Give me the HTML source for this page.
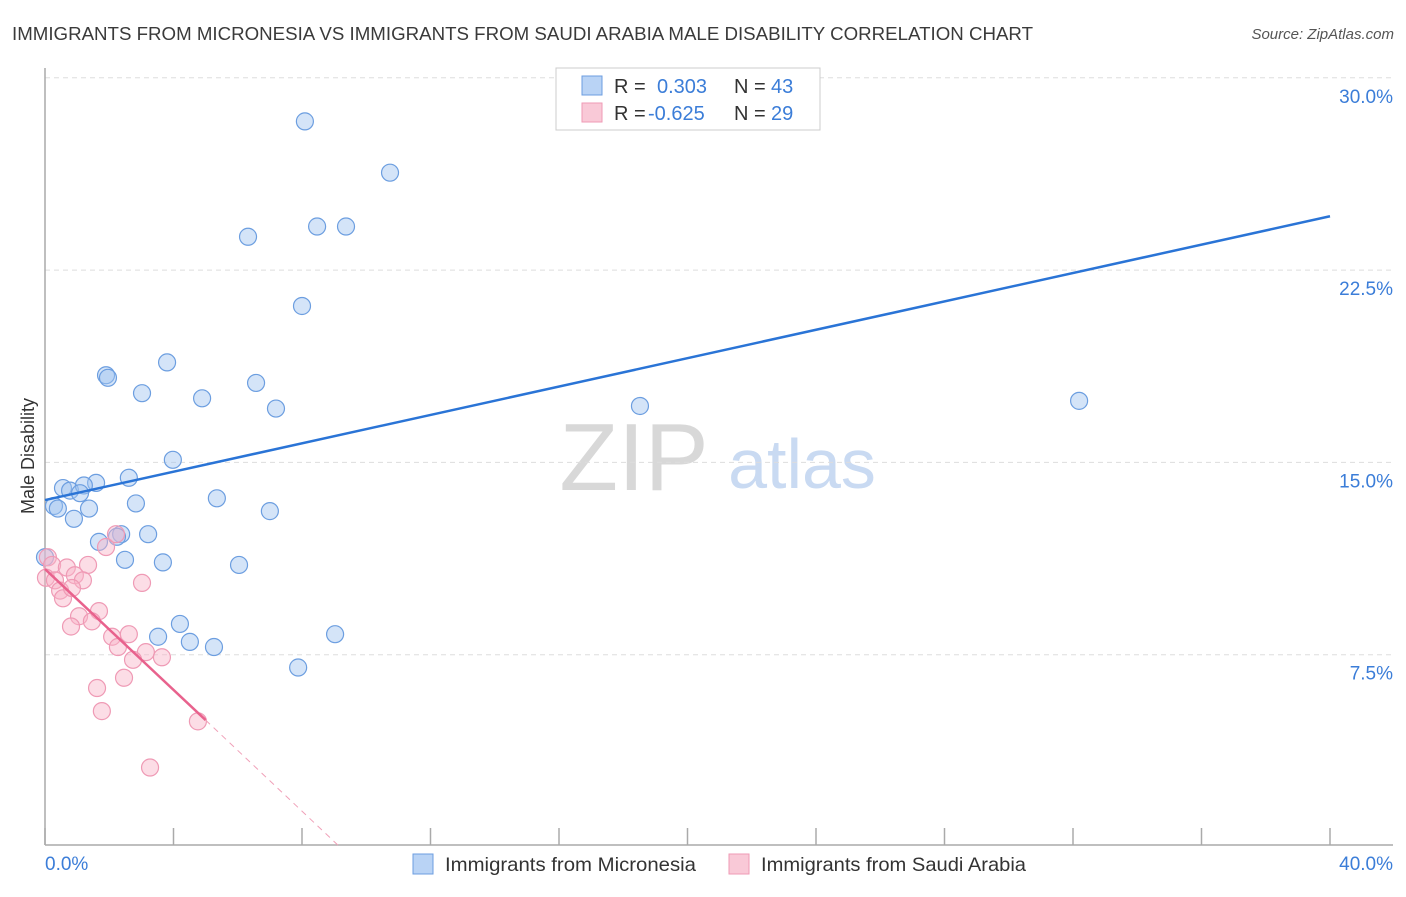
<!DOCTYPE html>
<html><head><meta charset="utf-8"><style>
body{margin:0;background:#fff;font-family:"Liberation Sans",sans-serif;}
svg text{font-family:"Liberation Sans",sans-serif;}
</style></head><body>
<svg id="chart" width="1406" height="892" xmlns="http://www.w3.org/2000/svg">
<text x="12" y="40" font-size="18" fill="#3a3a3a" textLength="1021" lengthAdjust="spacingAndGlyphs">IMMIGRANTS FROM MICRONESIA VS IMMIGRANTS FROM SAUDI ARABIA MALE DISABILITY CORRELATION CHART</text>
<text x="1394" y="39" font-size="15" fill="#555" text-anchor="end" font-style="italic">Source: ZipAtlas.com</text>
<g>
<text x="634" y="490" font-size="96" fill="#d8d8d8" text-anchor="middle" font-family="Liberation Serif">ZIP</text>
<text x="802" y="488" font-size="70" fill="#c9daf2" text-anchor="middle">atlas</text>
</g>
<g id="grid"></g>
<g id="axes"></g>
<g id="marks"></g>
<g>
<rect x="556" y="68" width="264" height="62" fill="#fff" stroke="#ccc"/>
<rect x="582" y="76" width="20" height="19" fill="#b9d3f5" stroke="#6c9ee0"/>
<rect x="582" y="103" width="20" height="19" fill="#f9c9d7" stroke="#ef9ab5"/>
<text x="614" y="93" font-size="20" fill="#333">R = </text><text x="657" y="93" font-size="20" fill="#3b7dd8">0.303</text>
<text x="734" y="93" font-size="20" fill="#333">N = </text><text x="771" y="93" font-size="20" fill="#3b7dd8">43</text>
<text x="614" y="120" font-size="20" fill="#333">R = </text><text x="648" y="120" font-size="20" fill="#3b7dd8">-0.625</text>
<text x="734" y="120" font-size="20" fill="#333">N = </text><text x="771" y="120" font-size="20" fill="#3b7dd8">29</text>
</g>
<g>
<rect x="413" y="854" width="20" height="20" fill="#b9d3f5" stroke="#6c9ee0"/>
<text x="445" y="871" font-size="19.5" fill="#333" textLength="251" lengthAdjust="spacingAndGlyphs">Immigrants from Micronesia</text>
<rect x="729" y="854" width="20" height="20" fill="#f9c9d7" stroke="#ef9ab5"/>
<text x="761" y="871" font-size="19.5" fill="#333" textLength="265" lengthAdjust="spacingAndGlyphs">Immigrants from Saudi Arabia</text>
</g>
</svg>
<script>
const blueX=[8.09,10.74,6.32,8.47,9.37,8.0,3.80,1.90,1.96,6.57,3.02,4.89,7.19,18.52,32.19,3.98,2.61,1.59,0.56,0.78,1.21,1.09,5.35,2.83,0.28,0.40,1.37,0.90,7.0,3.21,2.37,2.24,1.68,0,2.49,3.67,6.04,4.20,3.52,4.51,5.26,9.03,7.88];
const blueY=[28.3,26.3,23.8,24.2,24.2,21.1,18.9,18.4,18.3,18.1,17.7,17.5,17.1,17.2,17.4,15.1,14.4,14.2,14.0,13.9,14.1,13.8,13.6,13.4,13.3,13.2,13.2,12.8,13.1,12.2,12.2,12.1,11.9,11.3,11.2,11.1,11.0,8.7,8.2,8.0,7.8,8.3,7.0];
const pinkX=[0.09,0.22,0.68,1.34,0.03,0.31,0.93,1.18,0.47,0.56,0.84,1.90,2.21,3.02,1.68,1.06,1.46,0.81,2.09,2.61,2.27,3.14,2.74,3.64,1.62,2.46,1.77,4.76,3.27];
const pinkY=[11.3,11.0,10.9,11.0,10.5,10.4,10.6,10.4,10.0,9.7,10.1,11.7,12.2,10.3,9.2,9.0,8.8,8.6,8.2,8.3,7.8,7.6,7.3,7.4,6.2,6.6,5.3,4.9,3.1];
const blueTrend=[13.53,24.6];
const pinkTrend=[10.84,4.95,0];
const pinkTrendX=[0,5,9.18];
const yTicks=[7.5,15,22.5,30];
const yTickLabels=["7.5%","15.0%","22.5%","30.0%"];
const xTicks=[0,4,8,12,16,20,24,28,32,36,40];
const NS="http://www.w3.org/2000/svg";
const sx=v=>45+v*(1285/40);
const sy=v=>847-v*(192.3/7.5);
function mk(tag,attrs,parent){const e=document.createElementNS(NS,tag);for(const k in attrs)e.setAttribute(k,attrs[k]);document.getElementById(parent).appendChild(e);return e;}
yTicks.forEach((t,i)=>{
 const l=mk('line',{x1:45,x2:1393,y1:sy(t),y2:sy(t),stroke:'#ddd','stroke-dasharray':'5,4'},'grid');
 
 
 const tx=mk('text',{x:1393,y:sy(t)+25,'font-size':19,fill:'#3b7dd8','text-anchor':'end'},'axes');
 tx.textContent=yTickLabels[i];
 
 
});
const ax=mk('line',{x1:45,x2:45,y1:68,y2:845,stroke:'#aaa','stroke-width':1.5},'axes');


const bx=mk('line',{x1:45,x2:1393,y1:845,y2:845,stroke:'#aaa','stroke-width':1.5},'axes');


xTicks.forEach(t=>{
 const l=mk('line',{x1:sx(t),x2:sx(t),y1:828,y2:845,stroke:'#aaa','stroke-width':1.5},'axes');
 
 
});
const xl0=mk('text',{x:45,y:870,'font-size':19,fill:'#3b7dd8'},'axes');xl0.textContent='0.0%';


const xl1=mk('text',{x:1393,y:870,'font-size':19,fill:'#3b7dd8','text-anchor':'end'},'axes');xl1.textContent='40.0%';


const yt=mk('text',{x:34,y:456,'font-size':18,fill:'#333','text-anchor':'middle',transform:'rotate(-90 34 456)'},'axes');yt.textContent='Male Disability';


blueX.forEach((x,i)=>{
 const c=mk('circle',{cx:sx(x),cy:sy(blueY[i]),r:8.5,fill:'rgba(160,196,240,0.45)',stroke:'#6c9ee0','stroke-width':1.2},'marks');
 
 
});
pinkX.forEach((x,i)=>{
 const c=mk('circle',{cx:sx(x),cy:sy(pinkY[i]),r:8.5,fill:'rgba(248,180,200,0.45)',stroke:'#ef9ab5','stroke-width':1.2},'marks');
 
 
});
const bt=mk('line',{x1:sx(0),y1:sy(blueTrend[0]),x2:sx(40),y2:sy(blueTrend[1]),stroke:'#2a74d6','stroke-width':2.5},'marks');


const pt=mk('line',{x1:sx(pinkTrendX[0]),y1:sy(pinkTrend[0]),x2:sx(pinkTrendX[1]),y2:sy(pinkTrend[1]),stroke:'#e8628d','stroke-width':2.5},'marks');


const pd=mk('line',{x1:sx(pinkTrendX[1]),y1:sy(pinkTrend[1]),x2:sx(pinkTrendX[2]),y2:sy(pinkTrend[2]),stroke:'#f0a0b8','stroke-width':1,'stroke-dasharray':'6,5'},'marks');


</script>
</body></html>
